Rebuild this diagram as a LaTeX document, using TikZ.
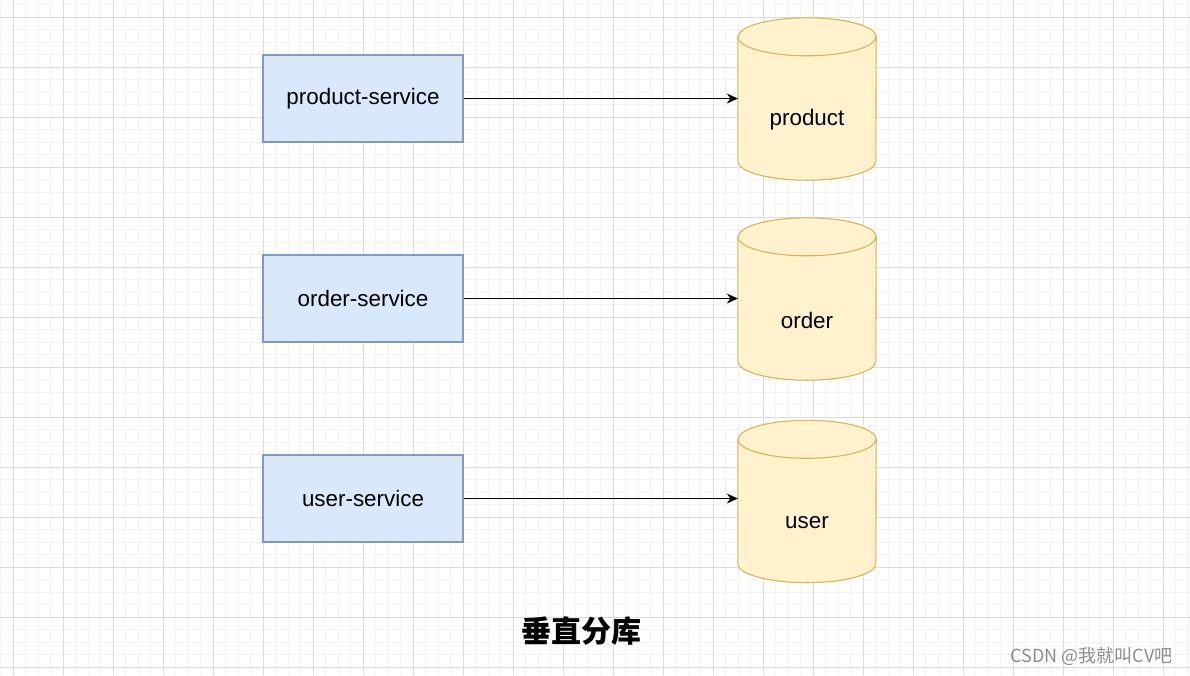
\documentclass[tikz,border=0pt]{standalone}
\usepackage{fontspec}
\setmainfont{Liberation Sans}
\newfontfamily\cjk{Noto Sans CJK SC}
\usetikzlibrary{arrows.meta}
\definecolor{svcfill}{HTML}{DAE8FC}
\definecolor{svcline}{HTML}{7F9AC6}
\definecolor{dbfill}{HTML}{FFF2CC}
\definecolor{dbline}{HTML}{D6B656}
\definecolor{minorgrid}{HTML}{F2F2F2}
\definecolor{majorgrid}{HTML}{DCDCDC}
\definecolor{markgray}{HTML}{8C8C8C}

\begin{document}
\begin{tikzpicture}[x=1pt, y=-1pt,
  svc/.style={draw=svcline, fill=svcfill, line width=1.1pt, minimum width=200pt,
    minimum height=87pt, inner sep=0pt, font=\fontsize{22.4}{26}\selectfont},
  dbbox/.style={minimum width=138pt, minimum height=162pt, inner sep=0pt},
  dbshape/.style={draw=dbline, fill=dbfill, line width=1.1pt},
  link/.style={-{Stealth[length=11pt, width=10pt]}, line width=1.2pt}]
\useasboundingbox (0,0) rectangle (1190,675);
\fill[white] (0,0) rectangle (1190,675);
% grid
\foreach \gx in {0.5,13,...,1190} \draw[minorgrid, line width=0.8pt] (\gx,0) -- (\gx,675);
\foreach \gy in {4.5,17,...,675} \draw[minorgrid, line width=0.8pt] (0,\gy) -- (1190,\gy);
\foreach \gx in {13,63,...,1190} \draw[majorgrid, line width=0.9pt] (\gx,0) -- (\gx,675);
\foreach \gy in {17,67,...,675} \draw[majorgrid, line width=0.9pt] (0,\gy) -- (1190,\gy);

% services and databases
\foreach \svc/\db/\svctext/\dbtext/\y/\ydb in {ps/pdb/product-service/product/98.5/99,
    os/odb/order-service/order/298.5/299, us/udb/user-service/user/498.5/501.5} {
  \node[svc] (\svc) at (363,\y) {\svctext};
  \node[dbbox] (\db) at (807,\ydb) {};
  \path[dbshape] ([yshift=-19pt]\db.north west) -- ([yshift=19pt]\db.south west)
    arc[start angle=180, end angle=0, x radius=69, y radius=19]
    -- ([yshift=-19pt]\db.north east)
    arc[start angle=0, end angle=-180, x radius=69, y radius=19] -- cycle;
  \draw[dbline, line width=1.1pt] ([yshift=-19pt]\db.north west)
    arc[start angle=180, end angle=0, x radius=69, y radius=19];
  \node[font=\fontsize{22.4}{26}\selectfont] (\db-label) at ([yshift=-21pt]\db.center) {\dbtext};
  \draw[link] (\svc.east) -- (\svc.east -| \db.west);
}

\node[font=\cjk\bfseries\fontsize{30}{34}\selectfont] (title) at (581,631) {垂直分库};
\node[font=\cjk\fontsize{18}{20}\selectfont, text=markgray, anchor=east] (mark) at (1176,656) {CSDN @我就叫CV吧};
\end{tikzpicture}
\end{document}
